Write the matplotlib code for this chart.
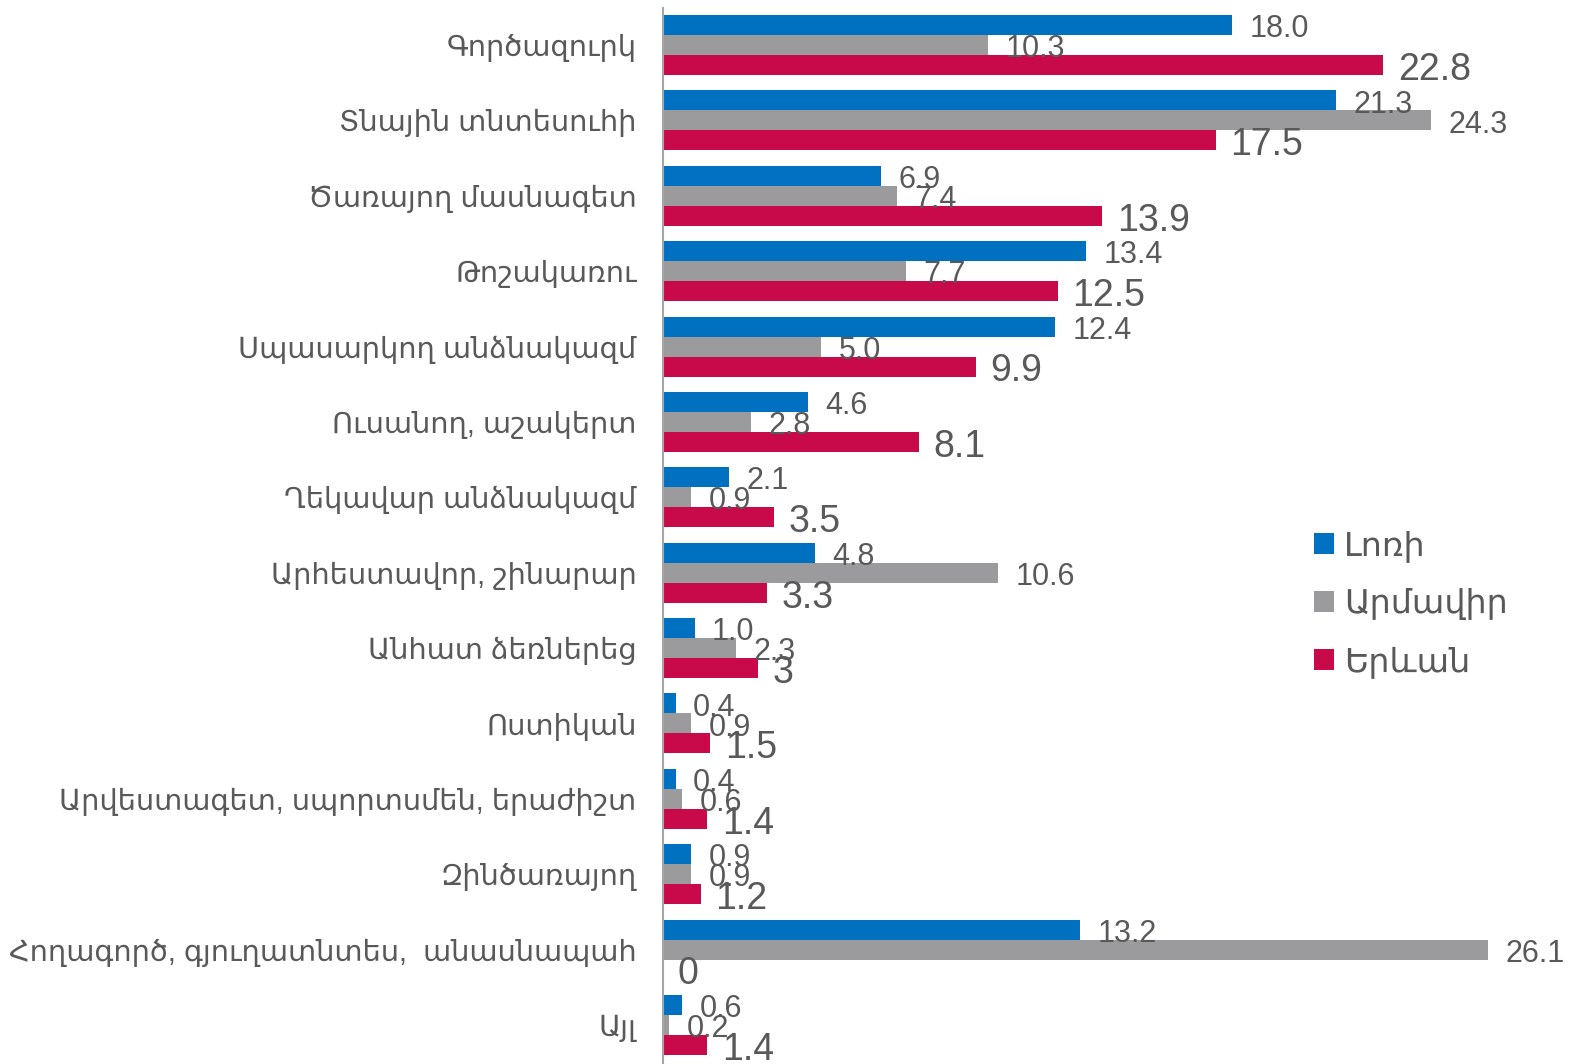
import matplotlib
matplotlib.use("Agg")
import matplotlib.pyplot as plt
from matplotlib.patches import Patch

plt.rcParams['font.family'] = ['Liberation Sans', 'DejaVu Sans']

categories = [
    "Գործազուրկ",
    "Տնային տնտեսուհի",
    "Ծառայող մասնագետ",
    "Թոշակառու",
    "Սպասարկող անձնակազմ",
    "Ուսանող, աշակերտ",
    "Ղեկավար անձնակազմ",
    "Արհեստավոր, շինարար",
    "Անհատ ձեռներեց",
    "Ոստիկան",
    "Արվեստագետ, սպորտսմեն, երաժիշտ",
    "Զինծառայող",
    "Հողագործ, գյուղատնտես,  անասնապահ",
    "Այլ",
]
series_names = ["Լոռի", "Արմավիր", "Երևան"]
lori = [18.0, 21.3, 6.9, 13.4, 12.4, 4.6, 2.1, 4.8, 1.0, 0.4, 0.4, 0.9, 13.2, 0.6]
armavir = [10.3, 24.3, 7.4, 7.7, 5.0, 2.8, 0.9, 10.6, 2.3, 0.9, 0.6, 0.9, 26.1, 0.2]
yerevan = [22.8, 17.5, 13.9, 12.5, 9.9, 8.1, 3.5, 3.3, 3.0, 1.5, 1.4, 1.2, 0.0, 1.4]
yerevan_labels = ["22.8", "17.5", "13.9", "12.5", "9.9", "8.1", "3.5", "3.3", "3",
                  "1.5", "1.4", "1.2", "0", "1.4"]

colors = ["#0070C0", "#9B9B9D", "#C80A4B"]
text_color = "#595959"

W, H = 1572, 1064
fig = plt.figure(figsize=(W / 100, H / 100), dpi=100)
ax = fig.add_axes([663 / W, 0, 1 - 663 / W, 1 - 8 / H])

n = len(categories)
ypos = list(range(n))
bh = 0.265
series = [lori, armavir, yerevan]
offsets = [-bh, 0, bh]
for vals, off, col, name in zip(series, offsets, colors, series_names):
    ax.barh([y + off for y in ypos], vals, height=bh, color=col, label=name)

# value labels
for vals, off in zip([lori, armavir], offsets[:2]):
    for y, v in zip(ypos, vals):
        ax.annotate(f"{v:.1f}", (v, y + off), xytext=(12.5, -3), textcoords="offset points",
                    va="center", ha="left", fontsize=22, color=text_color)
for y, v, lab in zip(ypos, yerevan, yerevan_labels):
    ax.annotate(lab, (v, y + offsets[2]), xytext=(10.5, -3.5), textcoords="offset points",
                va="center", ha="left", fontsize=27, color=text_color)

ax.set_xlim(0, (W - 663) / 31.6)
ax.set_ylim(13 + (H - 1025) / 75.4, -(45 - 8) / 75.4)
ax.set_yticks(ypos)
ax.set_yticklabels(categories, fontsize=20.8, color=text_color)
ax.tick_params(axis='y', length=0, pad=19)
ax.set_xticks([])
for s in ["top", "right", "bottom"]:
    ax.spines[s].set_visible(False)
ax.spines["left"].set_color("#A6A6A6")
ax.spines["left"].set_linewidth(1.5)

handles = [Patch(facecolor=c, edgecolor='none') for c in colors]
fig.legend(handles, series_names, loc="center left",
           bbox_to_anchor=(1284 / W, 1 - 604 / H), frameon=False,
           fontsize=24, labelcolor=text_color, handlelength=0.6, handleheight=0.6,
           handletextpad=0.3, labelspacing=0.78)

fig.savefig("out.png", dpi=100)
